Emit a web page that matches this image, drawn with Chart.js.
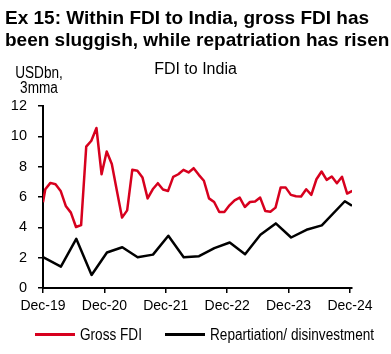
<!DOCTYPE html>
<html>
<head>
<meta charset="utf-8">
<script src="https://cdn.jsdelivr.net/npm/chart.js@4.4.1/dist/chart.umd.min.js"></script>
<style>
  html, body { margin: 0; padding: 0; background: #fff; }
  #wrap { position: relative; width: 391px; height: 354px; overflow: hidden; }
  #chart { position: absolute; left: 0; top: 0; }
  .txt { position: absolute; color: #000; white-space: nowrap; }
  #title { left: 5px; top: 7px; font: bold 19px/22px 'Liberation Sans', Arial, sans-serif; }
  #subtitle { left: 0; width: 391px; top: 61px; text-align: center; font: 16px/16px 'Liberation Sans', Arial, sans-serif; }
  #units { left: 0; width: 78px; top: 66px; text-align: center; font: 16px/14.5px 'Liberation Sans', Arial, sans-serif;
           transform: scaleX(0.85); transform-origin: 39px 0; }
  #legend { left: 0; top: 326px; width: 391px; height: 18px; font: 16px/18px 'Liberation Sans', Arial, sans-serif; }
  .item { position: absolute; top: 0; height: 18px; }
  .swatch { position: absolute; left: 0; top: 7px; width: 40px; height: 3px; }
  .label { position: absolute; left: 45px; top: 0; transform: scaleX(0.85); transform-origin: 0 0; white-space: nowrap; }
</style>
</head>
<body>
<div id="wrap">
  <canvas id="chart" width="391" height="354"></canvas>
  <div class="txt" id="title">Ex 15: Within FDI to India, gross FDI has<br>been sluggish, while repatriation has risen</div>
  <div class="txt" id="subtitle">FDI to India</div>
  <div class="txt" id="units">USDbn,<br>3mma</div>
  <div class="txt" id="legend"></div>
</div>
<script>
// x positions are months counted from Dec-19
var tickLabels = ['Dec-19', 'Dec-20', 'Dec-21', 'Dec-22', 'Dec-23', 'Dec-24'];
var tickMonths = [0, 12, 24, 36, 48, 60];

// Gross FDI, monthly (3mma), first value sits on the Dec-19 axis edge
var grossFdi = [5.65,
  6.51, 6.93, 6.84, 6.40, 5.41, 4.97, 4.02, 4.15, 9.32, 9.71, 10.55, 7.50,
  9.00, 8.17, 6.40, 4.64, 5.12, 7.79, 7.73, 7.28, 5.91, 6.51, 6.91, 6.49,
  6.40, 7.33, 7.50, 7.79, 7.62, 7.90, 7.46, 7.07, 5.91, 5.67, 5.01, 5.01,
  5.45, 5.78, 5.96, 5.34, 5.67, 5.70, 5.96, 5.08, 5.03, 5.30, 6.62, 6.62,
  6.14, 6.05, 6.03, 6.51, 6.14, 7.17, 7.68, 7.13, 7.35, 6.91, 7.33, 6.23, 6.40];
var grossMonths = grossFdi.map(function(v, i) { return i === 0 ? 0 : i - 0.55; });

// Repatriation / disinvestment, quarterly
var repatMonths = [0, 3.5, 6.5, 9.5, 12.5, 15.5, 18.5, 21.5, 24.5, 27.5, 30.5,
  33.5, 36.5, 39.5, 42.5, 45.5, 48.5, 51.5, 54.5, 59, 60.4];
var repatriation = [2.03, 1.41, 3.24, 0.86, 2.34, 2.69, 2.03, 2.20, 3.44, 2.03, 2.10,
  2.63, 3.00, 2.23, 3.51, 4.26, 3.33, 3.84, 4.13, 5.72, 5.42];

var fontFamily = "'Liberation Sans', Arial, sans-serif";
var red = '#d7001e';

function toPoints(xs, ys) {
  return xs.map(function(x, i) { return { x: x, y: ys[i] }; });
}

var axisGrid = { drawOnChartArea: false, drawTicks: true, tickLength: 5, color: '#000', lineWidth: 1.5 };
var axisBorder = { color: '#000', width: 2 };

var chart = new Chart(document.getElementById('chart'), {
  type: 'line',
  data: {
    datasets: [
      {
        label: 'Gross FDI',
        data: toPoints(grossMonths, grossFdi),
        borderColor: red,
        backgroundColor: red,
        borderWidth: 2.5,
        borderJoinStyle: 'round',
        pointRadius: 0,
        tension: 0
      },
      {
        label: 'Repartiation/ disinvestment',
        data: toPoints(repatMonths, repatriation),
        borderColor: '#000',
        backgroundColor: '#000',
        borderWidth: 2.5,
        borderJoinStyle: 'round',
        pointRadius: 0,
        tension: 0
      }
    ]
  },
  options: {
    responsive: false,
    animation: false,
    layout: { padding: { top: 106, left: 0, right: 39, bottom: 40 } },
    plugins: { legend: { display: false }, tooltip: { enabled: false } },
    scales: {
      x: {
        type: 'linear',
        min: 0,
        max: 60.4,
        afterBuildTicks: function(s) { s.ticks = tickMonths.map(function(v) { return { value: v }; }); },
        afterFit: function(s) { s.height = 26; },
        ticks: {
          callback: function(v, i) { return tickLabels[i]; },
          color: '#000', font: { family: fontFamily, size: 14 }, padding: 5,
          maxRotation: 0, autoSkip: false
        },
        grid: axisGrid,
        border: axisBorder
      },
      y: {
        min: 0,
        max: 12,
        afterFit: function(s) { s.width = 43; },
        ticks: { stepSize: 2, color: '#000', font: { family: fontFamily, size: 14.5 }, padding: 11 },
        grid: axisGrid,
        border: axisBorder
      }
    }
  }
});

// legend built from the datasets
var legend = document.getElementById('legend');
var legendLeft = [35, 165];
chart.data.datasets.forEach(function(ds, i) {
  var item = document.createElement('span');
  item.className = 'item';
  item.style.left = legendLeft[i] + 'px';
  var sw = document.createElement('span');
  sw.className = 'swatch';
  sw.style.background = ds.borderColor;
  var lb = document.createElement('span');
  lb.className = 'label';
  lb.textContent = ds.label;
  item.appendChild(sw);
  item.appendChild(lb);
  legend.appendChild(item);
});
</script>
</body>
</html>
